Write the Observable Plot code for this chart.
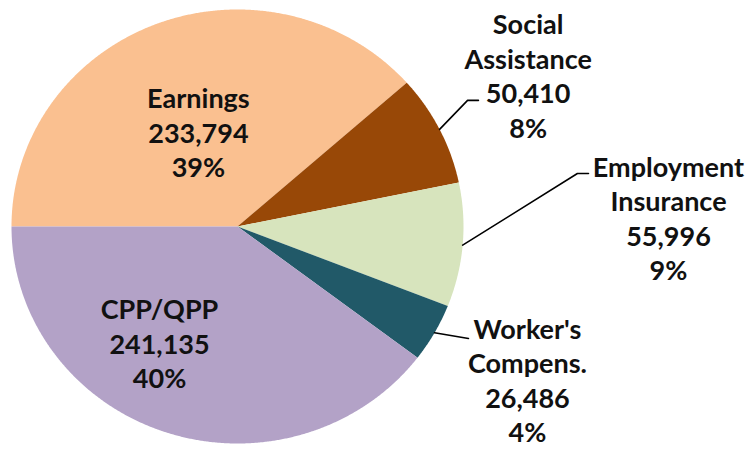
<!DOCTYPE html>
<html>
<head>
<meta charset="utf-8">
<script src="https://cdn.jsdelivr.net/npm/d3@7"></script>
<script src="https://cdn.jsdelivr.net/npm/@observablehq/plot@0.6"></script>
<style>
  html, body { margin: 0; padding: 0; background: #fff; }
  #chart { width: 752px; height: 449px; }
</style>
</head>
<body>
<div id="chart"></div>
<script>
// ---- data ----
const categories = ["Earnings", "Social Assistance", "Employment Insurance", "Worker's Compens.", "CPP/QPP"];
const values = [233794, 50410, 55996, 26486, 241135];
const percentLabels = ["39%", "8%", "9%", "4%", "40%"];
const nameLines = [["Earnings"], ["Social", "Assistance"], ["Employment", "Insurance"], ["Worker's", "Compens."], ["CPP/QPP"]];
const colors = ["#FAC090", "#984807", "#D7E4BD", "#215968", "#B3A2C7"];

// ---- layout (pie units: radius = 1) ----
const labelPos = [[-0.173, 0.438], [1.286, 0.698], [1.907, 0.041], [1.283, -0.705], [-0.345, -0.535]];
const leaderElbow = [null, [1.018, 0.581], [1.504, 0.244], [1.022, -0.516], null];
const leaderEnd = [null, [1.066, 0.581], [1.553, 0.244], [1.022, -0.516], null];

const W = 752, H = 449, cx = 237, cy = 226, rx = 226, ry = 217;

const pie = d3.pie().sort(null).startAngle(-Math.PI / 2).endAngle(1.5 * Math.PI);
const arcs = pie(values);

const slicePts = [];
arcs.forEach((a, i) => {
  slicePts.push({cat: categories[i], x: 0, y: 0});
  const n = Math.max(8, Math.ceil((a.endAngle - a.startAngle) / 0.005));
  for (let k = 0; k <= n; k++) {
    const t = a.startAngle + (a.endAngle - a.startAngle) * k / n;
    slicePts.push({cat: categories[i], x: Math.sin(t), y: Math.cos(t)});
  }
});

const fmt = d3.format(",");
const labels = categories.map((c, i) => ({
  x: labelPos[i][0], y: labelPos[i][1],
  text: [...nameLines[i], fmt(values[i]), percentLabels[i]].join("\n")
}));

const leaders = [];
arcs.forEach((a, i) => {
  if (!leaderElbow[i]) return;
  const m = (a.startAngle + a.endAngle) / 2;
  leaders.push({k: i, x: Math.sin(m), y: Math.cos(m)});
  leaders.push({k: i, x: leaderElbow[i][0], y: leaderElbow[i][1]});
  leaders.push({k: i, x: leaderEnd[i][0], y: leaderEnd[i][1]});
});

const chart = Plot.plot({
  width: W, height: H,
  margin: 0,
  style: {background: "#fff", fontFamily: "Lato, sans-serif"},
  x: {domain: [-cx / rx, (W - cx) / rx], range: [0, W], axis: null},
  y: {domain: [(cy - H) / ry, cy / ry], range: [H, 0], axis: null},
  color: {type: "ordinal", domain: categories, range: colors},
  marks: [
    Plot.line(slicePts, {x: "x", y: "y", z: "cat", fill: "cat", stroke: "none", curve: "linear-closed"}),
    Plot.line(leaders, {x: "x", y: "y", z: "k", stroke: "#000", strokeWidth: 1.6}),
    Plot.text(labels, {x: "x", y: "y", text: "text", fontSize: 27, fontWeight: "bold", lineHeight: 1.28, fill: "#111", textAnchor: "middle", lineAnchor: "middle"})
  ]
});
document.getElementById("chart").appendChild(chart);
</script>
</body>
</html>
